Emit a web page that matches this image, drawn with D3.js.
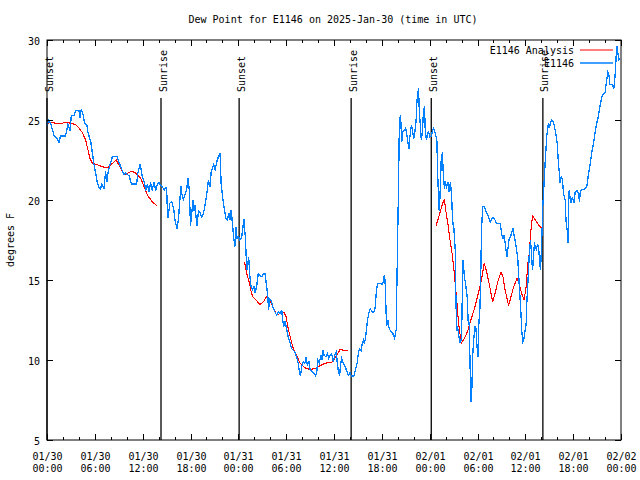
<!DOCTYPE html>
<html><head><meta charset="utf-8">
<script src="https://cdn.jsdelivr.net/npm/d3@7"></script>
<style>
html,body{margin:0;padding:0;background:#fff;}
svg{display:block;}
text{font-family:"DejaVu Sans Mono",monospace;font-size:10px;fill:#000;}
</style></head>
<body>
<svg id="chart" width="640" height="480"></svg>
<script>
// ---- data (hours since 2025-01-30 00:00 UTC) ----
const titleText = "Dew Point for E1146 on 2025-Jan-30 (time in UTC)";
const yLabel = "degrees F";
const seriesNames = ["E1146 Analysis", "E1146"];
const yTicks = [5, 10, 15, 20, 25, 30];
const sunLabels = ["Sunset", "Sunrise", "Sunset", "Sunrise", "Sunset", "Sunrise"];
const sunHours = [0.0, 14.3, 24.1, 38.15, 48.2, 62.2];

const obsHours = [0,0.25,0.45,0.9,1.3,1.5,1.7,2.3,2.5,2.6,2.9,3.05,3.4,3.6,4.0,4.15,4.3,4.55,4.7,5.0,5.15,5.5,5.7,5.9,6.1,6.3,6.5,6.7,6.9,7.15,7.35,7.5,7.65,7.9,8.2,8.8,9.0,9.3,9.65,9.85,10.3,10.6,11.25,11.4,11.7,11.8,11.95,12.2,12.4,12.6,12.8,13.0,13.2,13.4,13.65,13.85,14.05,14.25,14.5,14.7,14.9,15.0,15.1,15.2,15.4,15.65,15.75,15.9,16.05,16.3,16.5,16.6,16.8,16.9,17.1,17.3,17.5,17.7,17.85,18.0,18.15,18.3,18.45,18.55,18.8,19.0,19.2,19.4,19.6,19.8,20.0,20.25,20.45,20.6,20.9,21.1,21.3,21.5,21.7,21.85,22.05,22.25,22.45,22.6,22.85,22.95,23.1,23.3,23.45,23.6,23.7,23.85,24.05,24.2,24.4,24.55,24.7,24.9,25.0,25.1,25.3,25.45,25.6,25.8,25.95,26.1,26.3,26.5,26.7,26.95,27.15,27.35,27.55,27.7,27.8,27.9,28.1,28.35,28.6,28.8,29.0,29.2,29.45,29.55,29.7,29.85,30.05,30.2,30.5,30.7,30.9,31.1,31.3,31.55,31.65,31.8,31.95,32.15,32.35,32.5,32.65,32.85,33.0,33.25,33.45,33.7,33.85,33.95,34.15,34.35,34.5,34.6,34.75,35.0,35.2,35.35,35.5,35.7,35.9,36.1,36.3,36.4,36.55,36.7,36.8,36.95,37.1,37.4,37.6,37.8,38.0,38.2,38.5,38.7,38.9,39.05,39.2,39.4,39.55,39.7,39.8,39.95,40.05,40.2,40.4,40.55,40.8,41.0,41.15,41.3,41.45,41.8,42.1,42.3,42.4,42.55,42.6,42.75,42.9,43.1,43.35,43.6,43.8,43.9,44.1,44.2,44.35,44.5,44.65,44.85,45.0,45.15,45.25,45.4,45.5,45.65,45.75,45.9,46.05,46.2,46.3,46.4,46.6,46.7,46.85,46.95,47.1,47.2,47.35,47.45,47.6,47.7,47.85,48.0,48.2,48.35,48.5,48.7,48.8,48.9,49.0,49.1,49.2,49.3,49.45,49.6,49.7,49.85,49.95,50.1,50.3,50.45,50.6,50.75,50.9,51.0,51.2,51.3,51.4,51.5,51.7,51.85,52.0,52.1,52.2,52.35,52.5,52.7,52.85,52.95,53.1,53.2,53.3,53.4,53.55,53.7,53.8,53.95,54.05,54.15,54.3,54.4,54.5,54.65,54.85,55.05,55.3,55.45,55.6,55.8,56.0,56.2,56.35,56.85,57.05,57.2,57.35,57.55,57.7,57.8,57.95,58.15,58.3,58.45,58.55,58.7,58.9,59.05,59.2,59.35,59.45,59.55,59.7,59.8,59.95,60.1,60.2,60.3,60.4,60.5,60.65,60.75,60.9,61.0,61.15,61.25,61.4,61.5,61.65,61.75,61.9,62.0,62.1,62.2,62.3,62.5,62.7,62.9,63.0,63.15,63.3,63.5,63.65,63.8,64.0,64.15,64.3,64.35,64.5,64.65,64.8,65.0,65.1,65.25,65.35,65.4,65.5,65.6,65.75,65.9,66.1,66.25,66.45,66.65,66.8,66.9,67.1,67.5,67.7,67.9,68.15,68.35,68.55,68.75,68.95,69.15,69.4,69.6,69.8,70.0,70.2,70.35,70.5,70.6,70.9,71.1,71.25,71.4,71.5,71.65,71.75,71.85];
const obsDewpoint = [24.7,25.0,24.8,24.0,23.8,23.6,24.0,24.0,24.4,24.8,24.3,25.3,25.3,25.6,25.6,25.1,25.7,25.3,24.8,24.7,24.2,23.6,22.9,22.2,21.7,21.1,20.8,20.7,21.0,20.7,21.8,21.1,21.7,22.2,22.7,22.7,22.4,22.0,21.6,21.7,21.5,21.0,21.0,21.7,22.25,21.9,21.5,21.1,20.6,21.0,20.5,21.1,20.6,21.1,20.6,21.0,21.1,20.9,20.8,20.6,20.8,20.8,19.4,18.9,19.8,19.9,19.7,19.4,18.75,18.2,18.85,19.6,20.9,20.4,20.0,20.3,20.6,21.4,20.6,18.4,19.1,20.0,19.3,19.7,18.4,19.3,19.2,18.95,19.1,19.6,20.2,21.25,20.8,21.8,22.2,21.9,22.4,22.7,22.95,21.0,20.1,19.4,18.85,18.75,19.2,18.75,19.4,18.3,17.5,17.1,18.3,17.6,17.7,17.5,17.6,18.2,18.8,17.5,16.25,15.6,16.45,15.2,14.6,14.4,14.6,14.2,14.6,15.4,15.3,15.2,15.4,15.4,14.6,13.95,13.1,13.85,13.75,13.3,13.0,12.8,13.0,12.9,13.1,12.5,12.1,12.4,12.0,11.55,11.05,10.7,10.6,10.5,10.2,9.7,9.3,9.0,9.6,9.9,9.8,10.2,9.7,9.9,9.4,9.3,9.2,9.0,9.3,10.0,9.8,10.3,10.0,10.6,10.3,10.2,10.4,10.1,10.3,10.4,9.9,10.3,10.5,9.85,9.3,9.0,9.6,10.1,9.9,9.6,9.3,9.05,9.2,9.0,9.0,9.4,9.8,10.4,10.7,10.6,11.05,11.25,11.0,11.35,11.8,12.5,13.0,13.2,13.0,13.0,13.2,14.2,14.75,14.8,14.7,15.3,15.0,12.75,12.1,12.5,12.0,11.8,11.7,11.35,11.9,15.1,21.1,24.9,25.3,23.65,24.3,24.4,24.5,24.05,23.65,23.2,23.85,24.5,24.6,24.15,23.85,24.5,25.0,26.15,27.0,25.6,24.5,23.75,24.3,25.4,25.9,24.3,23.75,24.05,24.3,23.95,24.0,24.3,24.5,24.2,23.95,23.75,21.7,20.4,19.3,20.3,22.5,23.0,21.7,20.7,21.2,20.8,21.1,20.5,21.1,20.3,18.45,18.55,16.9,13.65,11.8,12.1,11.35,11.05,11.45,14.2,16.25,15.2,14.8,13.95,12.2,12.4,8.95,7.4,8.3,10.3,11.45,12.1,12.0,10.8,10.2,12.1,13.2,15.0,18.1,19.6,19.6,19.3,19.05,18.85,18.65,18.85,18.9,18.75,18.55,18.55,17.8,17.6,17.8,16.95,16.45,16.9,17.5,17.7,18.0,18.2,17.9,17.5,16.9,16.35,15.0,13.75,12.9,11.8,11.15,11.25,11.8,12.2,13.75,14.6,15.6,16.7,17.5,16.8,15.6,16.25,17.4,17.0,16.9,17.2,17.15,16.45,15.6,16.7,18.1,19.7,20.6,22.5,24.05,24.8,24.5,24.8,25.0,24.9,24.6,24.2,23.55,22.3,21.55,21.05,21.45,21.25,20.4,20.0,18.75,18.1,17.3,19.2,20.6,20.2,19.8,20.2,19.8,20.5,20.6,20.4,19.9,20.6,20.65,20.7,20.8,21.55,22.3,23.0,23.55,24.2,24.8,25.2,25.95,26.45,26.65,26.7,27.5,28.0,27.8,27.2,27.2,27.0,27.7,29.05,29.6,29.05,28.75,28.85];

const anaHours = [0,0.65,1.5,2.35,3.0,3.6,4.0,4.45,4.85,5.15,5.4,5.7,6.3,7.15,7.55,8.0,8.7,9.0,9.45,9.85,10.6,11.1,11.75,12.2,12.6,13.2,13.75,
  14.0,
  24.75,24.95,25.1,25.4,25.55,25.8,26.3,26.7,27.15,27.55,27.8,28.1,28.45,28.8,29.2,29.7,30.0,30.2,30.5,30.9,31.3,31.75,32.4,33.0,33.75,34.25,34.9,35.7,36.0,36.35,36.75,37.4,37.8,
  38.0,
  48.8,49.1,49.45,49.7,49.85,50.0,50.3,50.55,50.8,51.0,51.2,51.35,51.5,51.6,51.8,51.95,52.25,52.55,52.8,53.1,53.3,53.7,54.1,54.5,54.85,55.15,55.45,55.7,55.9,56.2,56.55,56.95,57.2,57.45,57.9,58.2,58.55,58.95,59.2,59.55,59.85,60.1,60.3,60.5,60.7,60.9,61.25,61.65,62.0];
const anaDewpoint = [24.8,24.85,24.75,24.85,24.8,24.7,24.5,24.2,23.75,23.1,22.6,22.3,22.2,22.05,22.0,22.2,22.5,22.2,21.8,21.6,21.8,21.7,21.35,20.8,20.3,19.9,19.65,
  null,
  16.15,15.7,15.3,14.8,14.4,13.95,13.7,13.45,13.65,13.95,13.85,13.6,13.2,12.8,12.9,13.0,12.7,12.1,11.45,10.7,10.3,9.8,9.5,9.4,9.5,9.65,9.8,9.85,10.0,10.3,10.65,10.6,10.6,
  null,
  18.4,18.85,19.5,19.9,20.0,19.4,18.45,17.5,16.7,15.85,14.8,13.95,13.1,12.4,11.65,11.05,11.25,11.55,11.85,12.4,12.7,13.35,14.15,15.0,16.05,15.5,14.8,14.15,13.65,14.15,14.9,15.5,15.2,14.4,13.4,13.95,14.6,15.1,14.8,14.15,13.75,14.6,15.95,16.7,18.1,19.0,18.75,18.45,18.25];

// ---- drawing ----
const base = Date.UTC(2025, 0, 30);
const toDate = h => new Date(base + h * 3600e3);
const svg = d3.select("#chart");
const L = 47, R = 621, T = 40, B = 440;
const x = d3.scaleUtc().domain([toDate(0), toDate(72)]).range([L, R]);
const y = d3.scaleLinear().domain([5, 30]).range([B, T]);

svg.append("rect").attr("width", 640).attr("height", 480).attr("fill", "#fff");

// title
svg.append("text").attr("x", 333).attr("y", 23).attr("text-anchor", "middle").text(titleText);

// y label
svg.append("text").attr("transform", "translate(14,240) rotate(-90)")
  .attr("text-anchor", "middle").text(yLabel);

// sun event lines
sunHours.forEach((h, i) => {
  const xx = x(toDate(h));
  svg.append("line").attr("x1", xx).attr("x2", xx).attr("y1", 98).attr("y2", B)
    .attr("stroke", "#000").attr("stroke-width", 1.3);
  svg.append("text").attr("transform", `translate(${xx + 5.5},92) rotate(-90)`)
    .attr("text-anchor", "start").text(sunLabels[i]);
});

// data lines
const obs = obsHours.map((h, i) => ({t: toDate(h), v: obsDewpoint[i]}));
const ana = anaHours.map((h, i) => ({t: toDate(h), v: anaDewpoint[i]}));
const line = d3.line().defined(d => d.v != null).x(d => x(d.t)).y(d => y(d.v));
svg.append("path").datum(ana).attr("d", line).attr("fill", "none")
  .attr("stroke", "#ff0000").attr("stroke-width", 1.1).attr("shape-rendering", "crispEdges");
svg.append("path").datum(obs).attr("d", line).attr("fill", "none")
  .attr("stroke", "#0080ff").attr("stroke-width", 1.3).attr("shape-rendering", "crispEdges");

// border
svg.append("rect").attr("x", L).attr("y", T).attr("width", R - L).attr("height", B - T)
  .attr("fill", "none").attr("stroke", "#000").attr("stroke-width", 1);

// x ticks (every 2h, major every 6h)
const xt = d3.utcHour.every(2).range(toDate(0), toDate(72.01));
const g = svg.append("g");
xt.forEach(d => {
  const xx = Math.round(x(d)) + 0.5;
  const major = d.getUTCHours() % 6 === 0;
  const len = major ? 6 : 3;
  g.append("line").attr("x1", xx).attr("x2", xx).attr("y1", B).attr("y2", B - len).attr("stroke", "#000");
  g.append("line").attr("x1", xx).attr("x2", xx).attr("y1", T).attr("y2", T + len).attr("stroke", "#000");
  if (major) {
    g.append("text").attr("x", xx).attr("y", 460).attr("text-anchor", "middle").text(d3.utcFormat("%m/%d")(d));
    g.append("text").attr("x", xx).attr("y", 472).attr("text-anchor", "middle").text(d3.utcFormat("%H:%M")(d));
  }
});

// y ticks
yTicks.forEach(v => {
  const yy = Math.round(y(v)) + 0.5;
  g.append("line").attr("x1", L).attr("x2", L + 6).attr("y1", yy).attr("y2", yy).attr("stroke", "#000");
  g.append("line").attr("x1", R).attr("x2", R - 6).attr("y1", yy).attr("y2", yy).attr("stroke", "#000");
  g.append("text").attr("x", 40).attr("y", yy + 4).attr("text-anchor", "end").text(v);
});

// legend
const colors = ["#ff0000", "#0080ff"];
seriesNames.forEach((n, i) => {
  const yy = 50 + i * 13;
  svg.append("text").attr("x", 574).attr("y", yy + 4).attr("text-anchor", "end").text(n);
  svg.append("line").attr("x1", 580).attr("x2", 613).attr("y1", yy).attr("y2", yy)
    .attr("stroke", colors[i]).attr("stroke-width", i ? 1.3 : 1.1);
});
</script>
</body></html>
